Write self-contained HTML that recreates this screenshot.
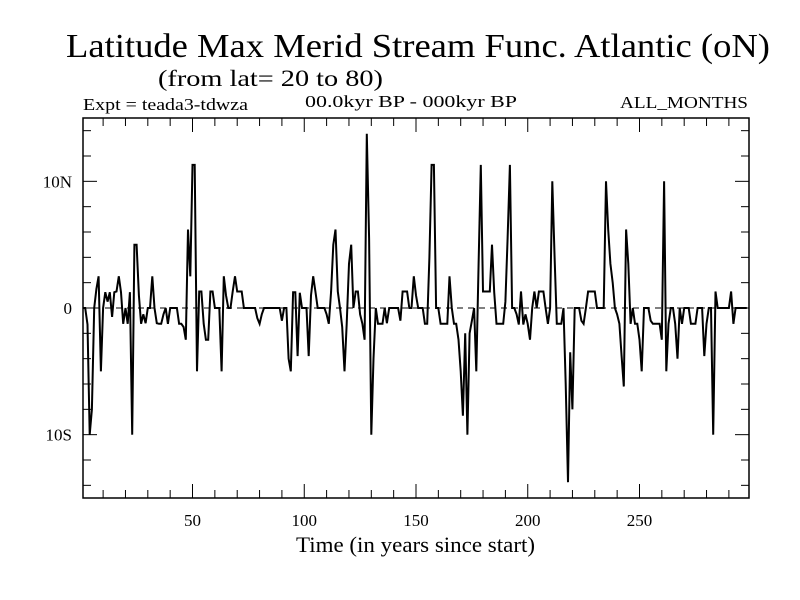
<!DOCTYPE html>
<html><head><meta charset="utf-8"><style>
body{margin:0;background:#fff;}
svg{display:block;font-family:"Liberation Serif",serif;}
</style></head><body>
<svg id="chart" width="800" height="600" viewBox="0 0 800 600">
<rect width="800" height="600" fill="#fff"/>
<text x="66" y="57" font-size="34" textLength="704" lengthAdjust="spacingAndGlyphs">Latitude Max Merid Stream Func. Atlantic (oN)</text>
<text x="158" y="86" font-size="23" textLength="225" lengthAdjust="spacingAndGlyphs">(from lat= 20 to 80)</text>
<text x="83" y="110" font-size="17" textLength="165" lengthAdjust="spacingAndGlyphs">Expt = teada3-tdwza</text>
<text x="305" y="107" font-size="17" textLength="212" lengthAdjust="spacingAndGlyphs">00.0kyr BP - 000kyr BP</text>
<text x="620" y="108" font-size="17" textLength="128" lengthAdjust="spacingAndGlyphs">ALL_MONTHS</text>
<text x="296" y="552" font-size="22" textLength="239" lengthAdjust="spacingAndGlyphs">Time (in years since start)</text>
<g id="axes"></g>
</svg>
<script>
const years = [];
const values = [0,0,-1.3,-10,-8,0,1.5,2.5,-5,0,1.25,0.5,1.25,-0.7,1.25,1.3,2.5,1.25,-1.25,0,-1.25,1.25,-10,5,5,1,-1.25,-0.5,-1.2,0,0,2.5,0,-1.2,-1.25,-1.25,-0.5,0,-1.25,0,0,0,0,-1.25,-1.25,-1.5,-2.5,6.2,2.5,11.3,11.3,-5,1.3,1.3,-1.25,-2.5,-2.5,1.3,1.3,0,0,0,-5,2.5,1,0,0,1.3,2.5,1.3,1.3,1.3,0,0,0,0,0,0,-0.8,-1.25,-0.5,0,0,0,0,0,0,0,0,-1,0,0,-4,-5,1.25,1.25,-3.8,1.2,0,0,0,-3.8,1,2.5,1.3,0,0,0,0,-0.5,-1.25,1.3,5,6.2,1.3,0,-1.5,-5,-1.25,3.5,5,0,1.3,1.3,-0.5,-1.25,-2.5,13.75,5.5,-10,-4,0,-1.25,-1.25,-1.25,0,-1.2,0,0,0,0,0,-1,1.3,1.3,1.3,0,0,2.5,1,0,0,0,-1.25,-1.25,4,11.3,11.3,0,0,-1.25,-1.25,-1.25,-1.25,2.5,0,-1.25,-1.25,-2.5,-5,-8.5,-2,-10,-2,-1,0,-5,3.5,11.3,1.3,1.3,1.3,1.3,5,1.25,-1.25,-1.25,-1.25,-1.25,0.5,5.5,11.3,0,0,-0.5,-1.3,1.3,-1.3,-0.5,-1.25,-2.5,0,1.3,0,1.3,1.3,1.3,0,-1.25,0,10,4,-1.25,-1.25,-1.25,0,-6,-13.75,-3.5,-8,0,0,0,-1,-1.25,0,1.3,1.3,1.3,1.3,0,0,0,0,10,6.2,3.5,2,0,-0.5,-1.25,-3.8,-6.2,6.2,3.5,-1.25,0,-1.25,-1.25,-2.5,-5,0,0,0,-1,-1.25,-1.25,-1.25,-1.25,-2.5,10,-5,-1.25,0,0,-1.25,-4,0,-1.25,0,0,0,-1.25,-1.25,-1.25,0,0,0,-3.8,-1.25,0,0,-10,1.3,0,0,0,0,0,0,1.3,-1.25,0,0,0,0,0,0];
for (let i = 0; i < values.length; i++) years.push(i + 1);
const xTicks = [50,100,150,200,250];
const yTickVals = [10,0,-10];
const yTickLabels = ["10N","0","10S"];

const L=83,R=749,T=118,B=498;
const xMin=1,xMax=299,yMin=-15,yMax=15;
const xs=v=>L+(v-xMin)/(xMax-xMin)*(R-L);
const ys=v=>B-(v-yMin)/(yMax-yMin)*(B-T);
const NS="http://www.w3.org/2000/svg";
const g=document.getElementById('axes');
function mk(tag,attrs){const e=document.createElementNS(NS,tag);for(const k in attrs)e.setAttribute(k,attrs[k]);g.appendChild(e);return e;}

const zl=mk('line',{x1:L,x2:R,y1:ys(0),y2:ys(0),stroke:'#000','stroke-width':1,'stroke-dasharray':'6,5'});



for(let v=10;v<=290;v+=10){
  const major=v%50===0;const len=major?14:8;const x=xs(v);
  const t1=mk('line',{x1:x,x2:x,y1:B,y2:B-len,stroke:'#000','stroke-width':1});
  
  
  const t2=mk('line',{x1:x,x2:x,y1:T,y2:T+len,stroke:'#000','stroke-width':1});
  
  
}
for(let v=-14;v<=14;v+=2){
  const major=v%10===0;const len=major?14:8;const y=ys(v);
  const t1=mk('line',{x1:L,x2:L+len,y1:y,y2:y,stroke:'#000','stroke-width':1});
  
  
  const t2=mk('line',{x1:R,x2:R-len,y1:y,y2:y,stroke:'#000','stroke-width':1});
  
  
}
xTicks.forEach(v=>{
  const t=mk('text',{x:xs(v),y:526,'font-size':17,'text-anchor':'middle'});
  t.textContent=v;
  
  
});
yTickVals.forEach((v,i)=>{
  const t=mk('text',{x:72,y:ys(v)+6,'font-size':17,'text-anchor':'end'});
  t.textContent=yTickLabels[i];
  
  
});

const pts=values.map((v,i)=>xs(years[i]).toFixed(1)+','+ys(v).toFixed(1)).join(' ');
const line=mk('polyline',{points:pts,fill:'none',stroke:'#000','stroke-width':2,'stroke-linejoin':'miter'});



const frame=mk('rect',{x:L,y:T,width:R-L,height:B-T,fill:'none',stroke:'#000','stroke-width':1.5});


</script>
</body></html>
